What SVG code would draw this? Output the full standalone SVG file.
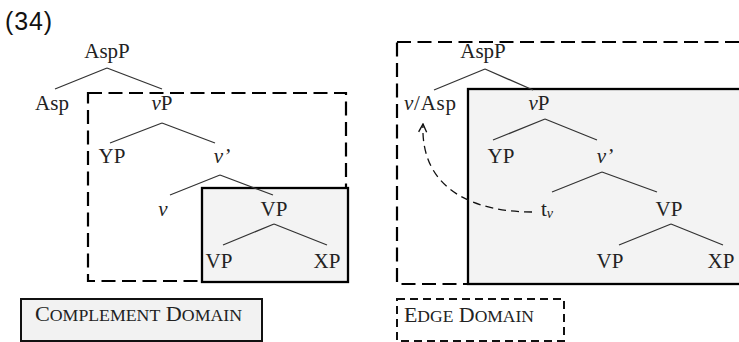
<svg xmlns="http://www.w3.org/2000/svg" width="739" height="342" viewBox="0 0 739 342">
<defs>
<style>
.t{font-family:"Liberation Serif","Times New Roman",serif;font-size:21px;fill:#222;text-anchor:middle}
.i{font-style:italic}
.e{stroke:#333;stroke-width:1.3;fill:none}
.dash{fill:none;stroke:#000;stroke-width:2.2;stroke-dasharray:14 6.5}
.solid{fill:#f3f3f3;stroke:#000;stroke-width:2.3}
.sc{font-family:"Liberation Serif","Times New Roman",serif;fill:#222}
</style>
<marker id="ah" viewBox="0 0 10 10" refX="9" refY="5" markerWidth="10" markerHeight="10" markerUnits="userSpaceOnUse" orient="auto">
<path d="M1,1 L9,5 L1,9" fill="none" stroke="#111" stroke-width="1.4"/>
</marker>
</defs>
<rect width="739" height="342" fill="#fff"/>
<text x="5" y="30" font-family="Liberation Sans, Arial, sans-serif" font-size="25" fill="#111" textLength="47">(34)</text>

<g id="domains">
<rect id="left-edge-box" class="dash" x="88" y="93" width="258" height="188"/>
<rect id="left-comp-box" class="solid" x="202" y="188" width="146" height="94"/>
<rect id="right-edge-box" class="dash" x="397" y="42" width="370" height="242"/>
<rect id="right-comp-box" class="solid" x="468" y="89" width="300" height="195"/>
</g>

<g id="connectors">
<path class="e" d="M107,68 L55,89 M107,68 L162,89"/>
<path class="e" d="M162,123 L110,143 M162,123 L215,143"/>
<path class="e" d="M220,175 L170,195 M220,175 L273,195"/>
<path class="e" d="M274,224 L223,245 M274,224 L327,245"/>
<path class="e" d="M485,69 L434,90 M485,69 L533,90"/>
<path class="e" d="M545,119 L493,140 M545,119 L597,140"/>
<path class="e" d="M602,172 L552,192 M602,172 L657,192"/>
<path class="e" d="M671,224 L619,245 M671,224 L723,245"/>
<path id="movement" d="M532,212 C478,212 420,192 423,124" fill="none" stroke="#111" stroke-width="1.3" stroke-dasharray="8 5" marker-end="url(#ah)"/>
</g>

<g id="L-AspP"><text class="t" x="107" y="58">AspP</text></g>
<g id="L-Asp"><text class="t" x="52" y="110">Asp</text></g>
<g id="L-vP"><text class="t" x="162" y="110"><tspan class="i">v</tspan>P</text></g>
<g id="L-YP"><text class="t" x="112" y="163">YP</text></g>
<g id="L-vbar"><text class="t i" x="222" y="163">v’</text></g>
<g id="L-v"><text class="t i" x="163" y="216">v</text></g>
<g id="L-VP"><text class="t" x="274" y="216">VP</text></g>
<g id="L-VP2"><text class="t" x="219" y="268">VP</text></g>
<g id="L-XP"><text class="t" x="327" y="268">XP</text></g>

<g id="R-AspP"><text class="t" x="483" y="58">AspP</text></g>
<g id="R-vAsp"><text class="t" x="404" y="110" text-anchor="start" style="text-anchor:start" textLength="52"><tspan class="i">v</tspan>/Asp</text></g>
<g id="R-vP"><text class="t" x="539" y="110"><tspan class="i">v</tspan>P</text></g>
<g id="R-YP"><text class="t" x="501" y="163">YP</text></g>
<g id="R-vbar"><text class="t i" x="605" y="163">v’</text></g>
<g id="R-tv"><text class="t" x="541" y="216" style="text-anchor:start">t<tspan class="i" font-size="14" dy="2">v</tspan></text></g>
<g id="R-VP"><text class="t" x="669" y="216">VP</text></g>
<g id="R-VP2"><text class="t" x="610" y="268">VP</text></g>
<g id="R-XP"><text class="t" x="721" y="268">XP</text></g>

<g id="complement-domain-label">
<rect x="21" y="299" width="241" height="42" fill="#f2f2f2" stroke="#111" stroke-width="2"/>
<text class="sc" x="35" y="321" textLength="207" lengthAdjust="spacingAndGlyphs"><tspan font-size="20">C</tspan><tspan font-size="16">OMPLEMENT</tspan><tspan font-size="20"> D</tspan><tspan font-size="16">OMAIN</tspan></text>
</g>
<g id="edge-domain-label">
<rect x="397" y="299" width="167" height="42" fill="none" stroke="#111" stroke-width="2" stroke-dasharray="8 5"/>
<text class="sc" x="404" y="322" textLength="130" lengthAdjust="spacingAndGlyphs"><tspan font-size="20">E</tspan><tspan font-size="16">DGE</tspan><tspan font-size="20"> D</tspan><tspan font-size="16">OMAIN</tspan></text>
</g>
</svg>
